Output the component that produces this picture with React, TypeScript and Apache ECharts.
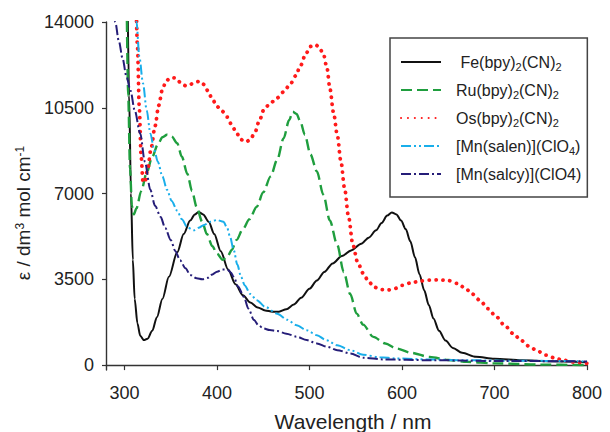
import React, { useEffect, useRef } from "react";
import * as echarts from "echarts";

// Absorption spectra: wavelength (nm) vs molar absorptivity (dm^3 mol^-1 cm^-1)
const wavelengthTicks = [300, 400, 500, 600, 700, 800];
const epsilonTicks = [0, 3500, 7000, 10500, 14000];

const seriesNames = [
  "Fe(bpy)2(CN)2",
  "Ru(bpy)2(CN)2",
  "Os(bpy)2(CN)2",
  "[Mn(salen)](ClO4)",
  "[Mn(salcy)](ClO4)",
];

const legendLabels: Record<string, string> = {
  "Fe(bpy)2(CN)2": " Fe(bpy){s|2}(CN){s|2}",
  "Ru(bpy)2(CN)2": "Ru(bpy){s|2}(CN){s|2}",
  "Os(bpy)2(CN)2": "Os(bpy){s|2}(CN){s|2}",
  "[Mn(salen)](ClO4)": "[Mn(salen)](ClO{s|4})",
  "[Mn(salcy)](ClO4)": "[Mn(salcy)](ClO4)",
};

const feData = [
  [303, 16000], [305, 11000], [307, 7000], [309, 4300], [311, 2700], [314, 1700],
  [317, 1200], [321, 1020], [325, 1080], [330, 1400], [335, 1950], [341, 2700],
  [348, 3600], [357, 4600], [364, 5350], [371, 5900], [376, 6150], [380, 6250],
  [385, 6150], [391, 5850], [397, 5350], [404, 4650], [412, 3900], [420, 3300],
  [428, 2850], [436, 2550], [444, 2350], [452, 2230], [460, 2180], [467, 2180],
  [475, 2280], [483, 2470], [491, 2750], [500, 3120], [508, 3450], [516, 3800],
  [525, 4150], [535, 4450], [545, 4680], [556, 4950], [564, 5200], [572, 5500],
  [578, 5800], [584, 6100], [589, 6230], [594, 6150], [599, 5900], [604, 5550],
  [609, 5050], [614, 4400], [619, 3700], [624, 3050], [629, 2450], [634, 1900],
  [640, 1400], [647, 1000], [655, 700], [665, 500], [680, 340], [700, 260],
  [730, 200], [760, 160], [800, 120],
];

const ruData = [
  [302, 16000], [304, 11000], [306, 8000], [308, 6500], [310, 6150], [313, 6400],
  [318, 7100], [324, 7850], [330, 8500], [336, 9000], [341, 9300], [346, 9400],
  [351, 9330], [357, 9050], [362, 8500], [368, 7800], [373, 7100], [378, 6450],
  [384, 5850], [389, 5350], [395, 4850], [400, 4550], [406, 4300], [411, 4400],
  [416, 4700], [421, 5100], [428, 5550], [435, 5950], [443, 6460], [450, 7050],
  [458, 7700], [465, 8370], [472, 9250], [478, 10000], [482, 10340], [486, 10250],
  [490, 9950], [495, 9400], [501, 8600], [508, 7900], [515, 6950], [522, 5900],
  [530, 4900], [537, 3800], [544, 2900], [551, 2100], [558, 1650], [569, 1150],
  [582, 880], [594, 680], [610, 500], [630, 330], [650, 210], [670, 130],
  [700, 70], [750, 20], [800, 0],
];

const osData = [
  [312, 16000], [314, 13000], [316, 10500], [318, 8500], [320, 7500], [322, 7450],
  [325, 8000], [329, 8900], [333, 9750], [337, 10600], [341, 11250], [345, 11600],
  [350, 11730], [355, 11720], [360, 11550], [366, 11400], [371, 11450], [376, 11550],
  [382, 11580], [386, 11450], [390, 11200], [395, 10850], [400, 10550], [406, 10350],
  [411, 10120], [416, 9800], [421, 9470], [426, 9200], [431, 9100], [436, 9200],
  [441, 9500], [446, 10000], [451, 10450], [458, 10700], [465, 10900], [472, 11150],
  [479, 11450], [485, 11800], [490, 12200], [496, 12700], [501, 13000], [506, 13080],
  [510, 13000], [515, 12700], [519, 12100], [522, 11300], [526, 10300], [530, 9400],
  [534, 8300], [538, 7200], [542, 6100], [547, 4900], [552, 4200], [558, 3750],
  [564, 3400], [570, 3180], [577, 3080], [584, 3060], [592, 3120], [600, 3250],
  [610, 3360], [620, 3430], [630, 3470], [640, 3480], [650, 3450], [660, 3330],
  [668, 3150], [676, 2900], [684, 2650], [693, 2300], [702, 1970], [711, 1620],
  [720, 1290], [729, 1000], [738, 750], [747, 560], [756, 410], [765, 290],
  [774, 200], [787, 120], [800, 70],
];

const salenData = [
  [311, 16000], [313, 14000], [316, 12600], [320, 11500], [324, 10400], [328, 9450],
  [332, 8800], [336, 8300], [341, 7700], [346, 7150], [351, 6700], [357, 6300],
  [362, 5950], [368, 5620], [375, 5500], [380, 5600], [386, 5720], [393, 5850],
  [400, 5920], [407, 5850], [411, 5600], [414, 5250], [418, 4700], [422, 4100],
  [426, 3600], [430, 3250], [436, 2900], [443, 2650], [452, 2380], [465, 2100],
  [476, 1850], [486, 1630], [497, 1420], [508, 1220], [518, 1020], [530, 810],
  [544, 610], [558, 420], [576, 320], [594, 270], [630, 230], [666, 200],
  [720, 180], [800, 150],
];

const salcyData = [
  [288, 14600], [290, 14000], [294, 13200], [298, 12500], [302, 11800], [306.5, 11200],
  [311, 10400], [317, 9450], [322, 8300], [328, 7150], [333, 6500], [339, 6050],
  [344, 5600], [350, 5100], [355, 4650], [360, 4280], [366, 3950], [371, 3680],
  [378, 3540], [384, 3500], [390, 3560], [395, 3700], [400, 3810], [406, 3900],
  [411, 3900], [415, 3780], [418, 3600], [423, 3200], [429, 2790], [434, 2300],
  [440, 1840], [445, 1620], [450, 1500], [457, 1430], [465, 1390], [475, 1280],
  [486, 1160], [497, 1020], [508, 885], [519, 750], [530, 610], [544, 476],
  [558, 300], [580, 230], [630, 200], [700, 170], [800, 150],
];

const FONT = '"Liberation Sans", Arial, Helvetica, sans-serif';

function lineSeries(name: string, data: number[][], lineStyle: any) {
  return {
    name,
    type: "line",
    data,
    symbol: "none",
    showSymbol: false,
    smooth: 0.3,
    smoothMonotone: "x",
    clip: true,
    lineStyle,
    itemStyle: { color: lineStyle.color },
    z: 2,
  };
}

export default function App() {
  const ref = useRef<HTMLDivElement>(null);

  useEffect(() => {
    if (!ref.current) return;
    const chart = echarts.init(ref.current, undefined, { renderer: "svg" });

    const axisLine = { show: true, lineStyle: { color: "#333", width: 1.4 } };

    chart.setOption({
      animation: false,
      backgroundColor: "#fff",
      textStyle: { fontFamily: FONT },
      grid: {
        left: 106,
        right: 23,
        top: 22,
        bottom: 62,
        containLabel: false,
        outerBoundsMode: "none",
      },
      xAxis: {
        type: "value",
        min: 280,
        max: 800,
        axisLine,
        axisTick: {
          show: true,
          length: 5,
          inside: false,
          customValues: wavelengthTicks,
          lineStyle: { color: "#333", width: 1.2 },
        },
        axisLabel: {
          customValues: wavelengthTicks,
          formatter: (v: number) => String(v),
          fontSize: 18,
          color: "#222",
          fontFamily: FONT,
          margin: 14,
        },
        splitLine: { show: false },
        name: "Wavelength / nm",
        nameLocation: "middle",
        nameGap: 41,
        nameTextStyle: {
          fontSize: 21,
          color: "#222",
          fontFamily: FONT,
          padding: [0, 0, 0, 13],
        },
      },
      yAxis: {
        type: "value",
        min: -200,
        max: 14000,
        axisLine,
        axisTick: {
          show: true,
          length: 4,
          inside: false,
          customValues: epsilonTicks,
          lineStyle: { color: "#333", width: 1.2 },
        },
        axisLabel: {
          customValues: epsilonTicks,
          formatter: (v: number) => String(v),
          fontSize: 18,
          color: "#222",
          fontFamily: FONT,
          margin: 12,
        },
        splitLine: { show: false },
        name: "ε / dm{sup|3} mol cm{sup|-1}",
        nameLocation: "middle",
        nameGap: 66,
        nameRotate: 90,
        nameTextStyle: {
          fontSize: 19,
          color: "#222",
          fontFamily: FONT,
          padding: [0, 34, 0, 0],
          rich: {
            sup: { fontSize: 12, verticalAlign: "top", fontFamily: FONT, color: "#222" },
          },
        },
      },
      legend: {
        show: true,
        orient: "vertical",
        left: 390,
        top: 38,
        padding: [14, 6, 13, 10],
        itemWidth: 40,
        itemHeight: 14,
        itemGap: 8,
        borderColor: "#444",
        borderWidth: 1.5,
        backgroundColor: "#fff",
        itemStyle: { opacity: 0 },
        data: seriesNames,
        formatter: (name: string) => legendLabels[name] ?? name,
        textStyle: {
          fontSize: 16,
          color: "#222",
          fontFamily: FONT,
          lineHeight: 20,
          padding: [0, 0, 0, 10],
          rich: {
            s: {
              fontSize: 11,
              verticalAlign: "bottom",
              lineHeight: 12,
              fontFamily: FONT,
              color: "#222",
            },
          },
        },
      },
      series: [
        lineSeries(seriesNames[0], feData, { color: "#111", width: 2, type: "solid" }),
        lineSeries(seriesNames[1], ruData, { color: "#1f9e3e", width: 2.4, type: [11, 5] }),
        lineSeries(seriesNames[2], osData, {
          color: "#ff1a1a",
          width: 3.8,
          type: [0.1, 6.8],
          cap: "round",
        }),
        lineSeries(seriesNames[3], salenData, {
          color: "#19aeea",
          width: 2,
          type: [10, 3, 2, 3, 2, 3],
        }),
        lineSeries(seriesNames[4], salcyData, {
          color: "#251d78",
          width: 2,
          type: [10, 3, 2, 3],
        }),
      ],
    });

    return () => chart.dispose();
  }, []);

  return (
    <div
      ref={ref}
      style={{ position: "fixed", left: 0, top: 0, width: 610, height: 432, background: "#fff" }}
    />
  );
}
